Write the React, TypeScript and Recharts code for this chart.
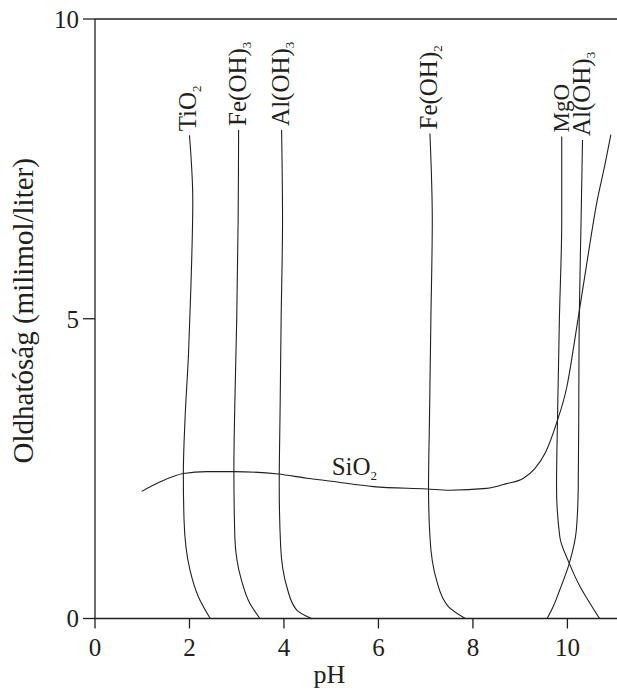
import React from 'react';
import { ComposedChart, Line, XAxis, YAxis, ReferenceLine, ReferenceDot } from 'recharts';

const xTicks = [0, 2, 4, 6, 8, 10];
const yTicks = [0, 5, 10];

const tio2 = [
  { x: 2.44, y: 0 }, { x: 2.19, y: 0.36 }, { x: 2.01, y: 0.81 }, { x: 1.885, y: 1.64 },
  { x: 1.87, y: 2.42 }, { x: 1.905, y: 3.31 }, { x: 1.98, y: 4.42 }, { x: 2.03, y: 5.53 },
  { x: 2.07, y: 6.98 }, { x: 2.0, y: 8.06 },
];
const feoh3 = [
  { x: 3.49, y: 0 }, { x: 3.28, y: 0.25 }, { x: 3.1, y: 0.64 }, { x: 2.96, y: 1.36 },
  { x: 2.94, y: 2.48 }, { x: 2.96, y: 3.59 }, { x: 3.0, y: 4.98 }, { x: 3.03, y: 6.65 },
  { x: 3.04, y: 8.15 },
];
const aloh3Left = [
  { x: 4.58, y: 0 }, { x: 4.27, y: 0.14 }, { x: 4.06, y: 0.53 }, { x: 3.93, y: 1.2 },
  { x: 3.9, y: 2.2 }, { x: 3.92, y: 3.59 }, { x: 3.94, y: 4.98 }, { x: 3.97, y: 6.65 },
  { x: 3.95, y: 8.15 },
];
const feoh2 = [
  { x: 7.84, y: 0 }, { x: 7.48, y: 0.2 }, { x: 7.23, y: 0.64 }, { x: 7.09, y: 1.36 },
  { x: 7.06, y: 2.2 }, { x: 7.08, y: 3.31 }, { x: 7.11, y: 4.98 }, { x: 7.14, y: 6.65 },
  { x: 7.09, y: 8.09 },
];
const mgo = [
  { x: 10.68, y: 0 }, { x: 10.48, y: 0.25 }, { x: 10.27, y: 0.53 }, { x: 10.04, y: 0.92 },
  { x: 9.84, y: 1.36 }, { x: 9.77, y: 2.2 }, { x: 9.79, y: 3.31 }, { x: 9.83, y: 4.98 },
  { x: 9.88, y: 6.65 }, { x: 9.88, y: 8.04 },
];
const aloh3Right = [
  { x: 9.57, y: 0 }, { x: 9.7, y: 0.2 }, { x: 9.84, y: 0.48 }, { x: 10.04, y: 0.92 },
  { x: 10.19, y: 1.48 }, { x: 10.23, y: 2.2 }, { x: 10.24, y: 3.31 }, { x: 10.25, y: 4.98 },
  { x: 10.29, y: 6.65 }, { x: 10.32, y: 7.98 },
];
const sio2 = [
  { x: 0.99, y: 2.12 }, { x: 1.38, y: 2.28 }, { x: 1.87, y: 2.42 }, { x: 2.36, y: 2.45 },
  { x: 2.93, y: 2.45 }, { x: 3.88, y: 2.41 }, { x: 4.48, y: 2.34 }, { x: 5.0, y: 2.29 },
  { x: 5.89, y: 2.2 }, { x: 7.02, y: 2.16 }, { x: 7.51, y: 2.14 }, { x: 8.29, y: 2.17 },
  { x: 8.71, y: 2.25 }, { x: 9.07, y: 2.34 }, { x: 9.31, y: 2.5 }, { x: 9.53, y: 2.76 },
  { x: 9.77, y: 3.26 }, { x: 9.99, y: 3.87 }, { x: 10.2, y: 4.87 }, { x: 10.41, y: 5.92 },
  { x: 10.62, y: 6.93 }, { x: 10.8, y: 7.59 }, { x: 10.92, y: 8.07 },
];
const sio2LabelIndex = 7;

const verticalSeries = [
  { name: 'TiO2', data: tio2, main: 'TiO', sub: '2', size: 25 },
  { name: 'Fe(OH)3', data: feoh3, main: 'Fe(OH)', sub: '3', size: 25 },
  { name: 'Al(OH)3 a', data: aloh3Left, main: 'Al(OH)', sub: '3', size: 25 },
  { name: 'Fe(OH)2', data: feoh2, main: 'Fe(OH)', sub: '2', size: 25 },
  { name: 'MgO', data: mgo, main: 'MgO', sub: '', size: 23 },
  { name: 'Al(OH)3 b', data: aloh3Right, main: 'Al(OH)', sub: '3', size: 25 },
];

const INK = '#231f20';
const FONT = 'Liberation Serif, Times New Roman, serif';

const rotatedLabel = (main: string, sub: string, size: number) => (p: any) => {
  const vb = p.viewBox || {};
  const bx = (vb.x ?? 0) + 7;
  const by = (vb.y ?? 0) - 4;
  return (
    <text
      x={bx}
      y={by}
      transform={`rotate(-90 ${bx} ${by})`}
      fontSize={size}
      fontFamily={FONT}
      style={{ fontFamily: FONT }}
      fill={INK}
      textAnchor="start"
    >
      {main}
      {sub ? (
        <tspan fontSize={13} dy={5}>
          {sub}
        </tspan>
      ) : null}
    </text>
  );
};

const sioLabel = (p: any) => {
  const vb = p.viewBox || {};
  const bx = (vb.x ?? 0) + 0.5;
  const by = (vb.y ?? 0) - 6;
  return (
    <text x={bx} y={by} fontSize={25} fontFamily={FONT} style={{ fontFamily: FONT }} fill={INK} textAnchor="start">
      SiO
      <tspan fontSize={13} dy={5}>
        2
      </tspan>
    </text>
  );
};

const yTitle = (p: any) => {
  const vb = p.viewBox || {};
  const cx = (vb.x ?? 0) + 33;
  const cy = (vb.y ?? 0) + (vb.height ?? 0) / 2 - 8;
  return (
    <text
      x={cx}
      y={cy}
      transform={`rotate(-90 ${cx} ${cy})`}
      fontSize={29}
      fontFamily={FONT}
      style={{ fontFamily: FONT }}
      fill={INK}
      textAnchor="middle"
    >
      Oldhatóság (milimol/liter)
    </text>
  );
};

const xTitle = (p: any) => {
  const vb = p.viewBox || {};
  const cx = (vb.x ?? 0) + 234.5;
  const cy = (vb.y ?? 0) + 64.5;
  return (
    <text x={cx} y={cy} fontSize={26} fontFamily={FONT} style={{ fontFamily: FONT }} fill={INK} textAnchor="middle">
      pH
    </text>
  );
};

export default function App() {
  const tickStyle = { fontSize: 25, fill: INK, fontFamily: FONT };
  return (
    <>
      <style>{`body{margin:0;}`}</style>
      <ComposedChart
        width={617}
        height={692}
        margin={{ top: 19, right: 0, bottom: 0, left: 0 }}
      >
        <XAxis
          type="number"
          dataKey="x"
          domain={[0, 11.05]}
          ticks={xTicks}
          allowDataOverflow
          height={73.5}
          tickSize={10}
          tickMargin={10}
          tick={tickStyle}
          axisLine={{ stroke: INK, strokeWidth: 1.3 }}
          tickLine={{ stroke: INK, strokeWidth: 1.3 }}
          label={xTitle}
        />
        <YAxis
          type="number"
          dataKey="y"
          domain={[0, 10]}
          ticks={yTicks}
          allowDataOverflow
          width={95}
          tickSize={12}
          tickMargin={4}
          tick={tickStyle}
          axisLine={{ stroke: INK, strokeWidth: 1.3 }}
          tickLine={{ stroke: INK, strokeWidth: 1.3 }}
          label={yTitle}
        />
        <ReferenceLine y={10} stroke={INK} strokeWidth={1.3} />
        {verticalSeries.map((s) => (
          <Line
            key={s.name}
            data={s.data}
            dataKey="y"
            type="monotoneY"
            stroke={INK}
            strokeWidth={1.1}
            dot={false}
            activeDot={false}
            isAnimationActive={false}
          />
        ))}
        <Line
          data={sio2}
          dataKey="y"
          type="monotone"
          stroke={INK}
          strokeWidth={1.1}
          dot={false}
          activeDot={false}
          isAnimationActive={false}
        />
        {verticalSeries.map((s) => {
          const top = s.data[s.data.length - 1];
          return (
            <ReferenceDot
              key={'lab' + s.name}
              x={top.x}
              y={top.y}
              r={0}
              fill="none"
              stroke="none"
              label={rotatedLabel(s.main, s.sub, s.size)}
            />
          );
        })}
        <ReferenceDot
          x={sio2[sio2LabelIndex].x}
          y={sio2[sio2LabelIndex].y}
          r={0}
          fill="none"
          stroke="none"
          label={sioLabel}
        />
      </ComposedChart>
    </>
  );
}
